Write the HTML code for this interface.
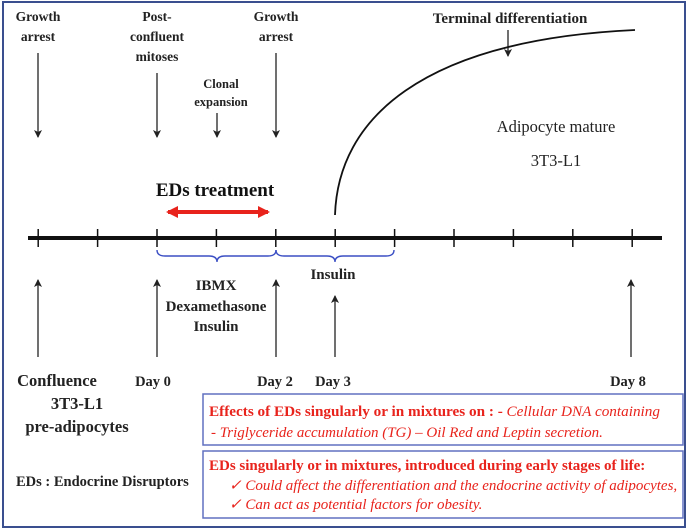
<!DOCTYPE html>
<html><head><meta charset="utf-8"><style>
body{margin:0;background:#fff;}
svg{display:block;font-family:"Liberation Serif",serif;font-weight:bold;}
</style></head><body>
<svg width="688" height="531" viewBox="0 0 688 531">
<defs>
<marker id="ah" markerWidth="8" markerHeight="8" refX="7" refY="4" orient="auto" markerUnits="userSpaceOnUse"><path d="M0,0 L8,4 L0,8 L2,4 Z" fill="#222"/></marker>
<marker id="rh" markerWidth="12" markerHeight="12" refX="10" refY="6" orient="auto-start-reverse" markerUnits="userSpaceOnUse"><path d="M0,0 L12,6 L0,12 Z" fill="#e8231c"/></marker>
</defs>
<rect x="3" y="2" width="682" height="525" fill="#fff" stroke="#3a4f8f" stroke-width="2"/>
<g id="top-arrows" stroke="#222" stroke-width="1.3">
<line x1="38" y1="53" x2="38" y2="137" marker-end="url(#ah)"/>
<line x1="157" y1="73" x2="157" y2="137" marker-end="url(#ah)"/>
<line x1="217" y1="113" x2="217" y2="137" marker-end="url(#ah)"/>
<line x1="276" y1="53" x2="276" y2="137" marker-end="url(#ah)"/>
<line x1="508" y1="30" x2="508" y2="56" marker-end="url(#ah)"/>
<line x1="38" y1="357" x2="38" y2="280" marker-end="url(#ah)"/>
<line x1="157" y1="357" x2="157" y2="280" marker-end="url(#ah)"/>
<line x1="276" y1="357" x2="276" y2="280" marker-end="url(#ah)"/>
<line x1="335" y1="357" x2="335" y2="296" marker-end="url(#ah)"/>
<line x1="631" y1="357" x2="631" y2="280" marker-end="url(#ah)"/>
</g>
<path d="M335,215 C338,120 420,40 635,30" fill="none" stroke="#111" stroke-width="1.8"/>
<line x1="28" y1="238" x2="662" y2="238" stroke="#111" stroke-width="4"/>
<g id="ticks" stroke="#111" stroke-width="1.5"></g>
<line x1="168" y1="212" x2="268" y2="212" stroke="#e8231c" stroke-width="4" marker-start="url(#rh)" marker-end="url(#rh)"/>
<path d="M157,250 Q157,256 165,256 L209,256 Q217,256 217,262 Q217,256 225,256 L268,256 Q276,256 276,250" fill="none" stroke="#3b4fc4" stroke-width="1.4"/>
<path d="M276,250 Q276,256 284,256 L327,256 Q335,256 335,262 Q335,256 343,256 L386,256 Q394,256 394,250" fill="none" stroke="#3b4fc4" stroke-width="1.4"/>
<g font-size="13.5" fill="#222" text-anchor="middle">
<text x="38" y="21">Growth</text><text x="38" y="41">arrest</text>
<text x="157" y="21">Post-</text><text x="157" y="41">confluent</text><text x="157" y="61">mitoses</text>
<text x="221" y="88" font-size="12.5">Clonal</text><text x="221" y="106" font-size="12.5">expansion</text>
<text x="276" y="21">Growth</text><text x="276" y="41">arrest</text>
<text x="510" y="23" font-size="15">Terminal differentiation</text>
<text x="556" y="132" font-size="16.5" font-weight="normal">Adipocyte mature</text>
<text x="556" y="166" font-size="16.5" font-weight="normal">3T3-L1</text>
<text x="215" y="196" font-size="19" fill="#111">EDs treatment</text>
<text x="333" y="279" font-size="15">Insulin</text>
<text x="216" y="290" font-size="15">IBMX</text><text x="216" y="311" font-size="15">Dexamethasone</text><text x="216" y="331" font-size="15">Insulin</text>
<text x="57" y="386" font-size="16.5">Confluence</text>
<text x="77" y="409" font-size="16.5">3T3-L1</text>
<text x="77" y="432" font-size="16.5">pre-adipocytes</text>
<g font-size="14.5"><text x="153" y="386">Day 0</text><text x="275" y="386">Day 2</text><text x="333" y="386">Day 3</text><text x="628" y="386">Day 8</text></g>
<text x="16" y="486" text-anchor="start" font-size="14.5">EDs : Endocrine Disruptors</text>
</g>
<rect x="203" y="394" width="480" height="51" fill="#fff" stroke="#6070c0" stroke-width="1.5"/>
<rect x="203" y="451" width="480" height="67" fill="#fff" stroke="#6070c0" stroke-width="1.5"/>
<g font-size="15" fill="#e8231c">
<text x="209" y="416" textLength="451" lengthAdjust="spacingAndGlyphs">Effects of EDs singularly or in mixtures on : - <tspan font-style="italic" font-weight="normal">Cellular DNA containing</tspan></text>
<text x="211" y="437" font-style="italic" font-weight="normal">- Triglyceride accumulation (TG) – Oil Red and Leptin secretion.</text>
<text x="209" y="470">EDs singularly or in mixtures, introduced during early stages of life:</text>
<text x="229" y="490" font-style="italic" font-weight="normal">✓ Could affect the differentiation and the endocrine activity of adipocytes,</text>
<text x="229" y="509" font-style="italic" font-weight="normal">✓ Can act as potential factors for obesity.</text>
</g>
</svg>
<script>
const tickDays=[-2,-1,0,1,2,3,4,5,6,7,8];
const g=document.getElementById('ticks');
const xs=d=>157+(d)*59.4;
tickDays.forEach(d=>{
 const l=document.createElementNS('http://www.w3.org/2000/svg','line');
 l.setAttribute('x1',xs(d));l.setAttribute('x2',xs(d));
 l.setAttribute('y1',229);l.setAttribute('y2',247);
 
 
 g.appendChild(l);
});
</script>
</body></html>
